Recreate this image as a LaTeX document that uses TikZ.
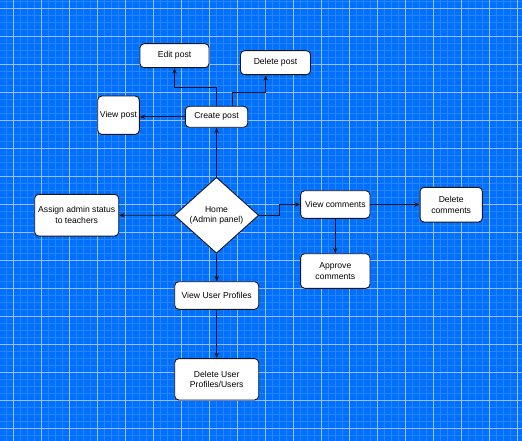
\documentclass[tikz,border=0pt]{standalone}
\usepackage{fontspec}
\setmainfont{Liberation Sans}
\usetikzlibrary{shapes.geometric,arrows.meta}
\definecolor{bg}{RGB}{2,112,254}
\definecolor{minorc}{RGB}{38,134,255}
\definecolor{majorc}{RGB}{150,192,255}
\definecolor{ink}{RGB}{20,20,20}
\tikzset{
  box/.style={draw=ink, line width=0.9pt, fill=white, rounded corners=4pt, inner sep=1pt,
    align=center, font=\fontsize{8.6}{10.6}\selectfont},
  arr/.style={draw=ink, line width=0.9pt, -{Stealth[length=5.5pt,width=4.5pt]}},
}
\begin{document}
\begin{tikzpicture}[x=1pt,y=-1pt]
\useasboundingbox (0,0) rectangle (522,441);
\fill[bg] (0,0) rectangle (522,441);
% minor grid
\foreach \i in {0,...,75} {
  \draw[minorc, line width=1.2pt] ({6.3+7*\i},0) -- ({6.3+7*\i},441);
}
\foreach \i in {0,...,63} {
  \draw[minorc, line width=1.2pt] (0,{1.3+7*\i}) -- (522,{1.3+7*\i});
}
% major grid
\foreach \i in {0,...,18} {
  \draw[majorc, line width=0.9pt] ({13.3+28*\i},0) -- ({13.3+28*\i},441);
}
\foreach \i in {0,...,15} {
  \draw[majorc, line width=0.9pt] (0,{8.3+28*\i}) -- (522,{8.3+28*\i});
}
% nodes
\node[box, minimum width=69pt, minimum height=24pt] (edit) at (174.5,55.7) {Edit post};
\node[box, minimum width=70pt, minimum height=24pt] (delp) at (275.5,62.7) {Delete post};
\node[box, minimum width=41.6pt, minimum height=38.3pt, inner sep=0pt] (view) at (118.5,115.2) {View post};
\node[box, minimum width=62.4pt, minimum height=21pt] (create) at (216.5,116.8) {Create post};
\node[box, minimum width=84pt, minimum height=41.7pt] (assign) at (76.7,215.2) {Assign admin status\\to teachers};
\node[draw=ink, line width=0.9pt, fill=white, diamond, minimum width=84.4pt, minimum height=76pt, inner sep=0pt,
  align=center, font=\fontsize{8.6}{10.6}\selectfont] (home) at (216.5,215.3) {Home\\(Admin panel)};
\node[box, minimum width=69.3pt, minimum height=27.6pt] (vcom) at (335.3,204.5) {View comments};
\node[box, minimum width=62.3pt, minimum height=34.7pt] (dcom) at (451.2,204.7) {Delete\\comments};
\node[box, minimum width=69.3pt, minimum height=34.6pt] (acom) at (335.3,271) {Approve\\comments};
\node[box, minimum width=84pt, minimum height=27.6pt] (vup) at (216.7,295.5) {View User Profiles};
\node[box, minimum width=84pt, minimum height=41.3pt] (dup) at (216.7,379.3) {Delete User\\Profiles/Users};
% helper coordinates
\coordinate (c1) at (216.5,87.3);
\coordinate (c2) at (232.3,92);
\coordinate (c3) at (265.7,92);
\coordinate (c4) at (279.3,215.3);
% connectors
\draw[arr] (home.north) -- (create.south);
\draw[arr] (create.north) -- (c1) -| (edit.south);
\draw[arr] (c2 |- create.north) -- (c2) -- (c3) -- (c3 |- delp.south);
\draw[arr] (create.west) -- (create.west -| view.east);
\draw[arr] (home.west) -- (assign.east);
\draw[arr] (home.east) -- (c4) |- (vcom.west);
\draw[arr] (vcom.east) -- (vcom.east -| dcom.west);
\draw[arr] (vcom.south) -- (acom.north);
\draw[arr] (home.south) -- (vup.north);
\draw[arr] (vup.south) -- (dup.north);
\end{tikzpicture}
\end{document}
